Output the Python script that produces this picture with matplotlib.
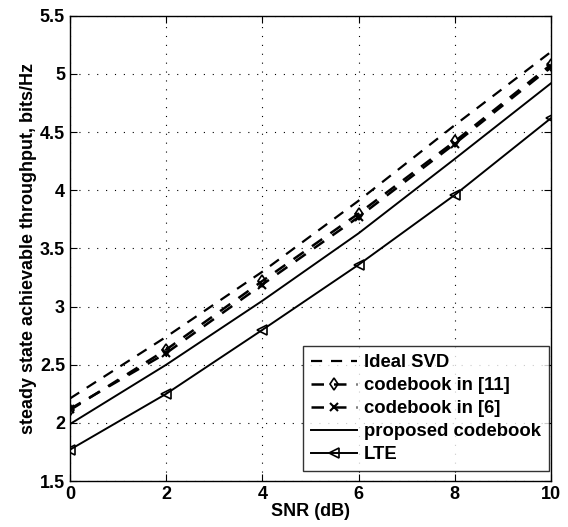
import matplotlib.pyplot as plt
import numpy as np

snr = [0, 2, 4, 6, 8, 10]
ideal_svd = [2.21, 2.74, 3.30, 3.91, 4.56, 5.19]
cb_11 = [2.11, 2.63, 3.22, 3.80, 4.42, 5.08]
cb_6 = [2.12, 2.60, 3.19, 3.77, 4.40, 5.06]
proposed = [1.99, 2.50, 3.05, 3.63, 4.27, 4.92]
lte = [1.77, 2.25, 2.80, 3.36, 3.96, 4.62]

plt.rcParams['font.family'] = ['Liberation Sans', 'DejaVu Sans']
plt.rcParams['font.weight'] = 'bold'

fig = plt.figure(figsize=(5.68, 5.27), dpi=100)
ax = fig.add_axes([0.123, 0.087, 0.847, 0.883])

ax.plot(snr, ideal_svd, 'k--', lw=1.6, dashes=(5, 4), label='Ideal SVD')
ax.plot(snr, cb_11, 'k--', lw=1.8, dashes=(5, 4), marker='d', ms=6,
        mfc='none', mew=1.2, label='codebook in [11]')
ax.plot(snr, cb_6, 'k--', lw=1.8, dashes=(5, 4), marker='x', ms=6,
        mew=1.5, label='codebook in [6]')
ax.plot(snr, proposed, 'k-', lw=1.4, label='proposed codebook')
ax.plot(snr, lte, 'k-', lw=1.4, marker='<', ms=7, mfc='none', mew=1.2,
        label='LTE')

ax.set_xlim(0, 10)
ax.set_ylim(1.5, 5.5)
ax.set_xticks(np.arange(0, 11, 2))
ax.set_yticks(np.arange(1.5, 5.6, 0.5))
ax.set_yticklabels(['1.5', '2', '2.5', '3', '3.5', '4', '4.5', '5', '5.5'])
ax.tick_params(direction='in', top=True, right=True, labelsize=13, length=5)
ax.grid(True, linestyle=(0, (1, 7)), color='k', lw=0.8)
for s in ax.spines.values():
    s.set_linewidth(1.0)

ax.set_xlabel('SNR (dB)', fontsize=13, fontweight='bold', labelpad=0)
ax.set_ylabel('steady state achievable throughput, bits/Hz', fontsize=13,
              fontweight='bold', labelpad=2)

leg = ax.legend(loc='lower right', bbox_to_anchor=(0.996, 0.021),
                fontsize=13.3, frameon=True, fancybox=False,
                edgecolor='k', borderaxespad=0, handlelength=2.5,
                handletextpad=0.35, labelspacing=0.32, borderpad=0.45)
leg.get_frame().set_linewidth(1.0)

fig.savefig('out.png', dpi=100)
